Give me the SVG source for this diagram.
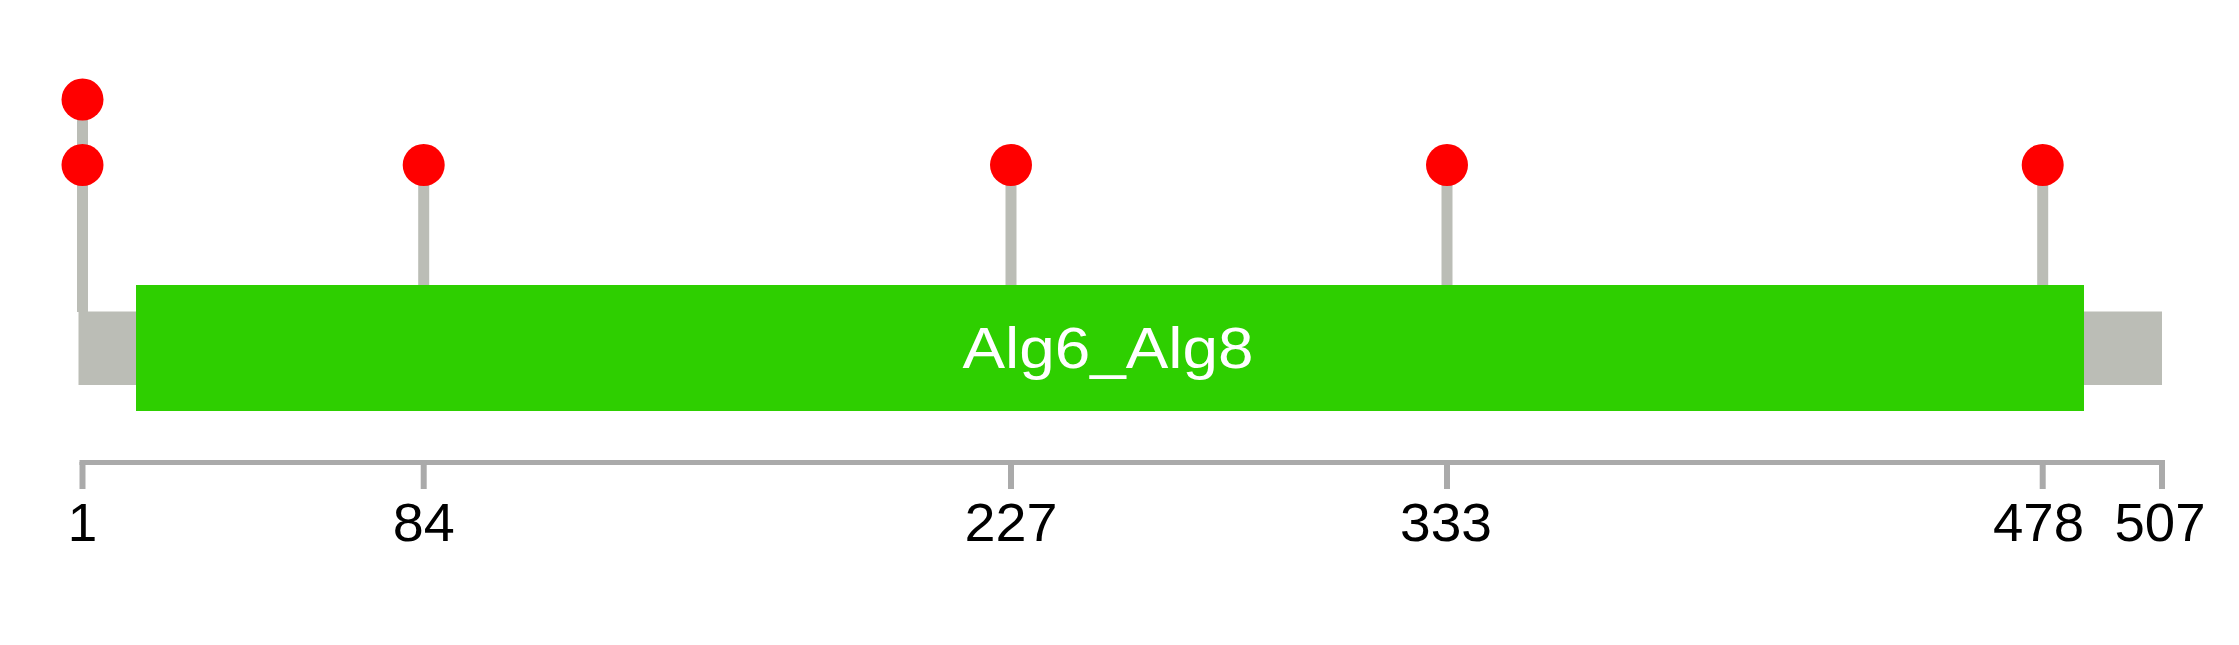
<svg xmlns="http://www.w3.org/2000/svg" width="2239" height="645" viewBox="0 0 2239 645">
<style>
.stem{stroke:#BBBDB6;stroke-width:11}
.dot{fill:#FF0000}
.tick{stroke:#AAAAAA;stroke-width:6}
.lbl{font-family:"Liberation Sans",Arial,sans-serif;font-size:53px;fill:#000000;text-anchor:middle}
</style>
<rect width="2239" height="645" fill="#FFFFFF"/>
<g id="connectors">
<line class="stem" x1="82.5" y1="99" x2="82.5" y2="312"/>
<line class="stem" x1="423.7" y1="165" x2="423.7" y2="286"/>
<line class="stem" x1="1011" y1="165" x2="1011" y2="286"/>
<line class="stem" x1="1447" y1="165" x2="1447" y2="286"/>
<line class="stem" x1="2042.7" y1="165" x2="2042.7" y2="286"/>
</g>
<g id="backbone">
<rect x="78.5" y="311.5" width="2083.5" height="73.5" fill="#BBBDB6"/>
</g>
<g id="domain">
<rect x="136" y="285" width="1948" height="126" fill="#2ECF00"/>
<text x="1108" y="368" font-family="&quot;Liberation Sans&quot;,Arial,sans-serif" font-size="57" fill="#FFFFFF" text-anchor="middle" textLength="291" lengthAdjust="spacingAndGlyphs">Alg6_Alg8</text>
</g>
<g id="mutations">
<circle class="dot" cx="82.5" cy="99.5" r="21"/>
<circle class="dot" cx="82.5" cy="165" r="21"/>
<circle class="dot" cx="423.7" cy="165" r="21"/>
<circle class="dot" cx="1011" cy="165" r="21"/>
<circle class="dot" cx="1447" cy="165" r="21"/>
<circle class="dot" cx="2042.7" cy="165" r="21"/>
</g>
<g id="axis">
<line x1="79.5" y1="462.5" x2="2165" y2="462.5" stroke="#AAAAAA" stroke-width="5"/>
<line class="tick" x1="82.5" y1="462" x2="82.5" y2="489"/>
<line class="tick" x1="423.7" y1="462" x2="423.7" y2="489"/>
<line class="tick" x1="1011" y1="462" x2="1011" y2="489"/>
<line class="tick" x1="1447" y1="462" x2="1447" y2="489"/>
<line class="tick" x1="2042.7" y1="462" x2="2042.7" y2="489"/>
<line class="tick" x1="2162" y1="462" x2="2162" y2="489"/>
<text class="lbl" x="82.5" y="541">1</text>
<text class="lbl" x="423.7" y="541" textLength="62" lengthAdjust="spacingAndGlyphs">84</text>
<text class="lbl" x="1011" y="541" textLength="93" lengthAdjust="spacingAndGlyphs">227</text>
<text class="lbl" x="1446" y="541" textLength="92" lengthAdjust="spacingAndGlyphs">333</text>
<text class="lbl" x="2038.5" y="541" textLength="91" lengthAdjust="spacingAndGlyphs">478</text>
<text class="lbl" x="2160" y="541" textLength="91" lengthAdjust="spacingAndGlyphs">507</text>
</g>
</svg>
